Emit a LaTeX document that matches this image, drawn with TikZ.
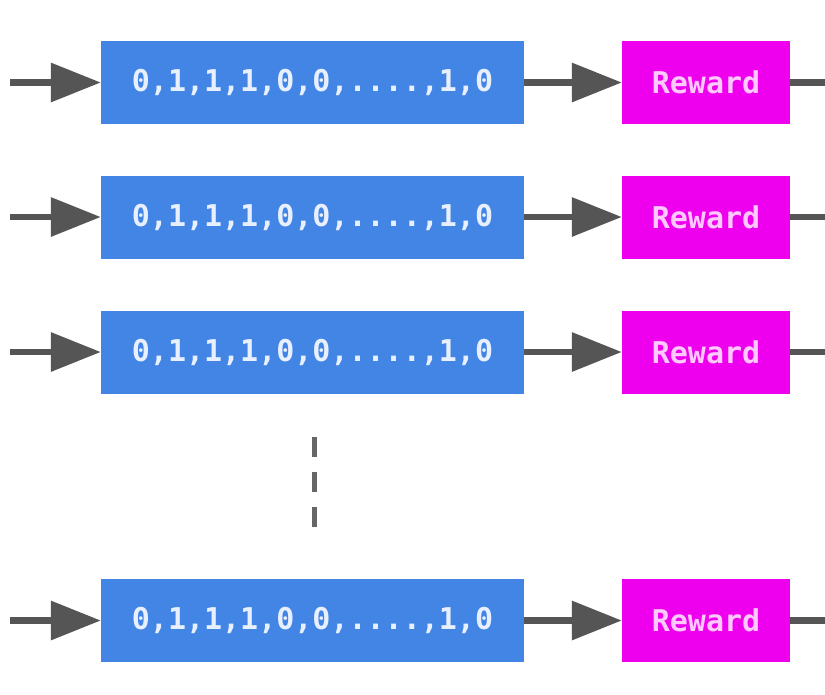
\documentclass[tikz,border=0pt]{standalone}
\usepackage{fontspec}
\setmonofont{DejaVu Sans Mono}
\usetikzlibrary{arrows.meta}
\definecolor{seqblue}{RGB}{66,133,228}
\definecolor{rewmag}{RGB}{238,0,238}
\definecolor{seqtext}{RGB}{232,240,255}
\definecolor{rewtext}{RGB}{255,200,255}
\definecolor{linkgrey}{RGB}{85,85,85}
\tikzset{
  seqbox/.style={fill=seqblue, minimum width=423pt, minimum height=83pt, inner sep=0pt,
    text=seqtext, font=\ttfamily\bfseries\fontsize{30}{36}\selectfont},
  rewbox/.style={fill=rewmag, minimum width=168pt, minimum height=83pt, inner sep=0pt,
    text=rewtext, font=\ttfamily\bfseries\fontsize{30}{36}\selectfont},
  link/.style={draw=linkgrey, line width=6.5pt,
    -{Triangle[length=50pt, width=38pt, fill=linkgrey]}},
  tail/.style={draw=linkgrey, line width=6.5pt},
  gap/.style={draw=linkgrey!90, line width=5pt, dash pattern=on 20pt off 15pt}
}
\begin{document}
\begin{tikzpicture}[x=1pt, y=-1pt]
  \fill[white] (0,0) rectangle (825,694);
  \useasboundingbox (0,0) rectangle (825,694);
  % one row per sampled sequence
  \foreach \r/\yc in {1/82.5, 2/217, 3/352, 4/620.5} {
    \node[seqbox] (seq\r) at (312.5,\yc) {0,1,1,1,0,0,....,1,0};
    \node[rewbox] (rew\r) at (706,\yc) {Reward};
    \coordinate (in\r) at (10,\yc);
    \coordinate (out\r) at (825,\yc);
    \draw[link] (in\r) -- (seq\r.west);
    \draw[link] (seq\r.east) -- (rew\r.west);
    \draw[tail] (rew\r.east) -- (out\r);
  }
  % vertical ellipsis between the rows
  \coordinate (dtop) at (314,437);
  \coordinate (dbot) at (314,530);
  \draw[gap] (dtop) -- (dbot);
\end{tikzpicture}
\end{document}
